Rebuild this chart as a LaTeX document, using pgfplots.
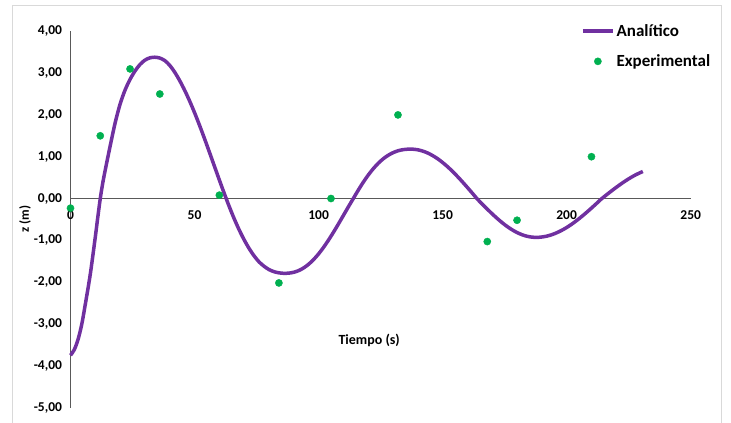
\documentclass[border=0pt]{standalone}
\usepackage{pgfplots}
\pgfplotsset{compat=1.18}
\usepackage{fontspec}
\setmainfont{Carlito}
\definecolor{linepurple}{HTML}{7030A0}
\definecolor{dotgreen}{HTML}{00B050}
\definecolor{axisgray}{HTML}{595959}
\definecolor{framegray}{HTML}{D9D9D9}
\pgfplotsset{
  lineleg/.style={legend image code/.code={\draw[##1] (0bp,0bp) -- (30bp,0bp);}},
  dotleg/.style={legend image code/.code={\draw[mark repeat=2,mark phase=2,##1] plot coordinates {(0bp,0bp)(15bp,0bp)(30bp,0bp)};}},
}
\begin{document}
\begin{tikzpicture}
\useasboundingbox (0,0) rectangle (731bp,423bp);
\fill[white] (0,0) rectangle (731bp,423bp);
\draw[framegray, line width=1bp] (12.5bp,-5bp) -- (12.5bp,417bp) -- (721.5bp,417bp) -- (721.5bp,-5bp);
\begin{axis}[
  at={(70.5bp,15.5bp)}, anchor=south west,
  scale only axis, width=620.2bp, height=376.2bp,
  xmin=0, xmax=250, ymin=-5, ymax=4,
  axis lines=middle,
  axis line style={-, axisgray, line width=1.3bp},
  hide obscured x ticks=false, hide obscured y ticks=false,
  xtick={0,50,...,250}, ytick={-5,-4,...,4},
  major tick length=0pt,
  /pgf/number format/assume math mode=true,
  ticklabel style={font=\fontsize{13.5bp}{15bp}\selectfont\bfseries, text=black},
  yticklabel style={/pgf/number format/.cd, fixed, fixed zerofill, precision=2, use comma, /tikz/.cd, xshift=-5bp},
  xticklabel style={/pgf/number format/.cd, fixed, precision=0, /tikz/.cd, yshift=-9bp},
  xlabel={Tiempo (s)},
  ylabel={z (m)},
  xlabel style={at={(axis cs:120.4,-3.39)}, anchor=center, font=\fontsize{14bp}{16bp}\selectfont\bfseries},
  ylabel style={at={(axis cs:-18.3,-0.49)}, anchor=center, rotate=90, font=\fontsize{13bp}{15bp}\selectfont\bfseries},
  clip=false,
  legend style={at={(0.823,1.030)}, anchor=north west, draw=none, fill=none,
    font=\fontsize{17bp}{20bp}\selectfont\bfseries, row sep=13bp,
    inner xsep=0pt, cells={anchor=west}},
]
\addplot[linepurple, line width=3.5bp, smooth, no markers, lineleg]
coordinates {
(0,-3.75)(1.5,-3.62)(3,-3.38)(4.5,-3.02)(6,-2.52)(8,-1.8)(10,-0.92)(11,-0.45)
(12,0)(13,0.37)(14,0.68)(16,1.26)(18,1.81)(20,2.26)(22,2.595)(24,2.85)(26,3.05)
(28,3.205)(30,3.31)(32,3.365)(34,3.38)(36,3.36)(38,3.30)(40,3.186)(42,3.023)
(44,2.822)(46,2.592)(48,2.335)(50,2.054)(52,1.753)(54,1.436)(56,1.108)(58,0.775)
(60,0.443)(62,0.118)(64,-0.194)(66,-0.486)(68,-0.751)(70,-0.988)(72,-1.196)
(74,-1.372)(76,-1.516)(78,-1.62)(80,-1.70)(82,-1.75)(84,-1.778)(86,-1.79)
(88,-1.785)(90,-1.765)(92,-1.724)(94,-1.66)(96,-1.572)(98,-1.46)(100,-1.325)
(102,-1.169)(104,-0.995)(106,-0.807)(108,-0.609)(110,-0.405)(112,-0.2)(114,0.0)
(116,0.2)(118,0.388)(120,0.559)(122,0.71)(124,0.84)(126,0.947)(128,1.032)
(130,1.096)(132,1.141)(134,1.168)(136,1.18)(138,1.18)(140,1.165)(142,1.134)
(144,1.088)(146,1.026)(148,0.951)(150,0.861)(152,0.76)(154,0.648)(156,0.526)
(158,0.397)(160,0.263)(162,0.126)(164,-0.014)(166,-0.134)(168,-0.253)(170,-0.369)
(172,-0.477)(174,-0.578)(176,-0.669)(178,-0.748)(180,-0.814)(182,-0.866)
(184,-0.903)(186,-0.924)(188,-0.93)(190,-0.921)(192,-0.9)(194,-0.866)(196,-0.819)
(198,-0.762)(200,-0.694)(202,-0.616)(204,-0.529)(206,-0.434)(208,-0.334)
(210,-0.229)(212,-0.121)(214,-0.01)(216,0.085)(218,0.178)(220,0.267)(222,0.353)
(224,0.433)(226,0.506)(228,0.572)(230.7,0.646)
};
\addlegendentry{Analítico}
\addplot[only marks, mark=*, mark size=3.6bp, dotgreen, mark options={draw=dotgreen, fill=dotgreen}, dotleg]
coordinates {
(0,-0.23)(12,1.5)(24,3.1)(36,2.5)(60,0.08)(84,-2.02)(105,0)(132,2)(168,-1.03)(180,-0.52)(210,1)
};
\addlegendentry{Experimental}
\end{axis}
\end{tikzpicture}
\end{document}
